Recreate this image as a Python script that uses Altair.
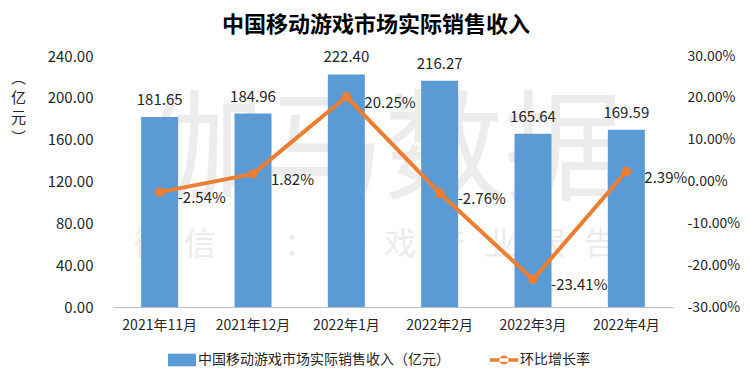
import altair as alt
import pandas as pd

months = ["2021年11月", "2021年12月", "2022年1月", "2022年2月", "2022年3月", "2022年4月"]
revenue = [181.65, 184.96, 222.40, 216.27, 165.64, 169.59]
growth = [-2.54, 1.82, 20.25, -2.76, -23.41, 2.39]
bar_name = "中国移动游戏市场实际销售收入（亿元）"
line_name = "环比增长率"
left_ticks = [0, 40, 80, 120, 160, 200, 240]
right_ticks = [-30, -20, -10, 0, 10, 20, 30]
title_text = "中国移动游戏市场实际销售收入"
y_title = ["︵", "亿", "元", "︶"]
wm_main = ["伽马数据"]
wm_sub = ["微\u2002\u200a信\u2002\u200a号\u2002\u200a：\u2002\u200a游\u2002\u200a戏\u2002\u200a产\u2002\u200a业\u2002\u200a报\u2002\u200a告"]

FONT = "Noto Sans CJK SC"
BLUE = "#5b9bd5"
ORANGE = "#ed7d31"
TXT = "#262626"

df = pd.DataFrame({
    "month": months,
    "revenue": revenue,
    "growth": growth,
    "bar_s": bar_name,
    "line_s": line_name,
})

x_enc = alt.X(
    "month:N", sort=months, title=None,
    axis=alt.Axis(labelAngle=0, ticks=False, domainColor="#bfbfbf", labelFontSize=14,
                  labelPadding=11, labelColor=TXT, labelFont=FONT),
)

rect_path = "M-1,-0.45H1V0.45H-1Z"
line_path = "M-1,-0.12H1V0.12H-1Z M0.32,0 A0.32,0.32 0 1,0 -0.32,0 A0.32,0.32 0 1,0 0.32,0 Z"

wm1 = alt.Chart(pd.DataFrame({"t": wm_main})).mark_text(
    fontSize=120, color="#ececec", font=FONT, align="center", baseline="middle"
).encode(text="t:N", x=alt.value(271), y=alt.value(99))

wm2 = alt.Chart(pd.DataFrame({"t": wm_sub})).mark_text(
    fontSize=32, color="#ececec", font=FONT, align="center", baseline="middle"
).encode(text="t:N", x=alt.value(262), y=alt.value(189))

base = alt.Chart(df)

bars = base.mark_bar(size=37).encode(
    x=x_enc,
    y=alt.Y("revenue:Q", title=y_title,
            scale=alt.Scale(domain=[0, 240], nice=False),
            axis=alt.Axis(values=left_ticks, format=".2f", ticks=False, domain=False,
                          labelFontSize=15, labelPadding=20, labelColor=TXT, labelFont=FONT,
                          titleAngle=0, titleX=-95, titleY=14, titleAlign="center",
                          titleBaseline="top", titleFontSize=15, titleFontWeight="normal",
                          titleLineHeight=20, titleColor=TXT, titleFont=FONT)),
    color=alt.Color("bar_s:N", scale=alt.Scale(domain=[bar_name], range=[BLUE]),
                    legend=alt.Legend(title=None, orient="none", legendX=55, legendY=290,
                                      symbolType=rect_path, symbolSize=784, symbolStrokeWidth=0,
                                      labelFontSize=14, labelFont=FONT, labelColor=TXT,
                                      labelOffset=2, padding=0, labelLimit=0)),
)

bar_labels = base.mark_text(dy=-9, baseline="bottom", fontSize=15, color=TXT, font=FONT).encode(
    x=x_enc,
    y="revenue:Q",
    text=alt.Text("revenue:Q", format=".2f"),
)

left = alt.layer(bars, bar_labels)

y_right = alt.Y(
    "growth:Q", title=None,
    scale=alt.Scale(domain=[-30, 30], nice=False),
    axis=alt.Axis(orient="right", values=right_ticks, ticks=False, domain=False,
                  labelExpr="replace(format(datum.value, '.2f'), '\u2212', '-') + '%'",
                  labelFontSize=14, labelPadding=14, labelColor=TXT, labelFont=FONT),
)

line = base.mark_line(color=ORANGE, strokeWidth=4).encode(x=x_enc, y=y_right)

points = base.mark_point(filled=True, shape="circle", size=90, opacity=1).encode(
    x=x_enc,
    y="growth:Q",
    color=alt.Color("line_s:N", scale=alt.Scale(domain=[line_name], range=[ORANGE]),
                    legend=alt.Legend(title=None, orient="none", legendX=377, legendY=290,
                                      symbolType=line_path, symbolSize=784, symbolStrokeWidth=0,
                                      labelFontSize=14, labelFont=FONT, labelColor=TXT,
                                      labelOffset=2, padding=0, labelLimit=0)),
)

line_labels = base.transform_calculate(
    lab="replace(format(datum.growth, '.2f'), '\u2212', '-') + '%'"
).mark_text(align="left", baseline="middle", dx=18, dy=6, fontSize=15, color=TXT, font=FONT).encode(
    x=x_enc,
    y="growth:Q",
    text="lab:N",
)

right = alt.layer(line, points, line_labels)

chart = alt.layer(wm1, wm2, left, right).resolve_scale(
    y="independent", color="independent"
).properties(
    width=560,
    height=251,
    padding={"left": 105, "top": 48, "right": 68, "bottom": 60},
    autosize=alt.AutoSizeParams(type="none"),
    title=alt.TitleParams(title_text, fontSize=22, fontWeight="bold", font=FONT, color="#000000",
                          anchor="middle", dx=-17, offset=12),
).configure_view(stroke=None).configure_axis(grid=False)

chart.save("out.html", embed_options={"renderer": "svg", "actions": False})
